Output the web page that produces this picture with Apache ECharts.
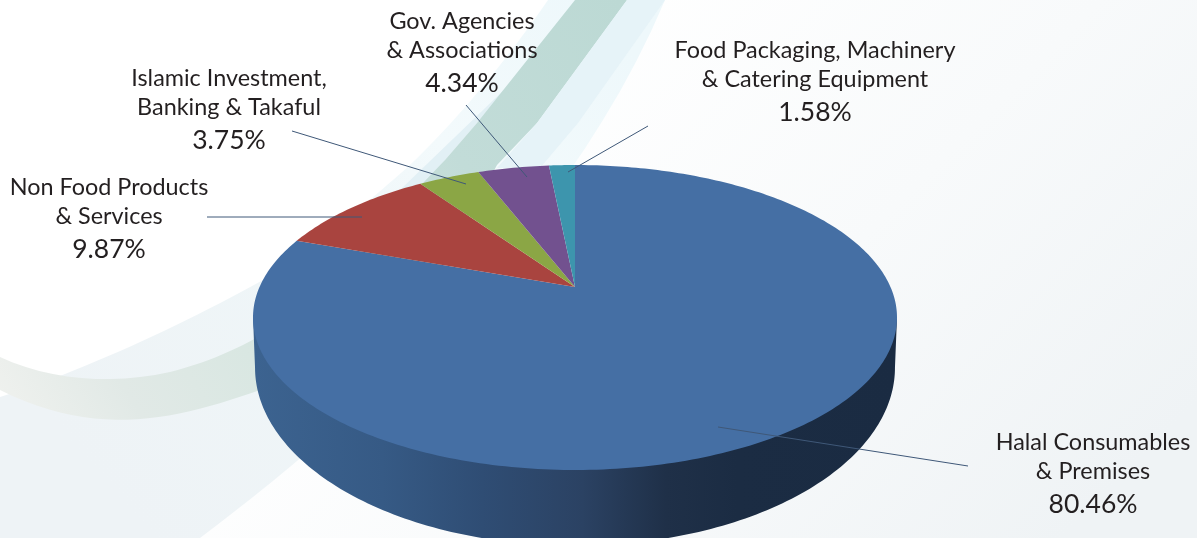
<!DOCTYPE html>
<html><head><meta charset="utf-8">
<style>html,body{margin:0;padding:0;background:#fff}#c{width:1197px;height:538px}</style>
<script src="https://cdn.jsdelivr.net/npm/echarts@6/dist/echarts.min.js"></script>
</head><body><div id="c"></div>
<script>
// ---- data ----
var categories = ['Halal Consumables\n& Premises','Non Food Products\n& Services','Islamic Investment,\nBanking & Takaful','Gov. Agencies\n& Associations','Food Packaging, Machinery\n& Catering Equipment'];
var shares = [80.46, 9.87, 3.75, 4.34, 1.58];

// ---- styles and layout ----
var sliceColors = ['#456fa4','#a9443f','#8ba645','#72518f','#3d95ad'];
var labelLayout = [
  {cx:1093, y:442, from:[968,466], to:[718,427]},
  {cx:109,  y:187, from:[207,217], to:[362,217]},
  {cx:229,  y:78,  from:[292,131], to:[466,184]},
  {cx:462,  y:21,  from:[466,105], to:[527,177]},
  {cx:815,  y:50,  from:[648,126], to:[568,172]}
];
var FONT = 'Lato, "Open Sans", sans-serif';
var TOP = {x0:575, y0:287, a:315.5, b:146.4, k:0.2};
var BASE = {x0:575, y0:332, a:313.5, b:171, k:0.2};

function project(m, t){
  var u = Math.sin(t), v = -Math.cos(t), w = 1 - m.k * v;
  return [m.x0 + m.a * u / w, m.y0 + m.b * v / w];
}
function arc(m, t0, t1, n){
  var p = [];
  for (var i = 0; i <= n; i++) p.push(project(m, t0 + (t1 - t0) * i / n));
  return p;
}
function bez(pts){ // pts: start, then triples of control points
  var out = [pts[0]];
  for (var i = 3; i < pts.length; i += 3){
    var a = pts[i-3], b = pts[i-2], c = pts[i-1], d = pts[i];
    for (var s = 1; s <= 24; s++){
      var t = s/24, m = 1-t;
      out.push([m*m*m*a[0]+3*m*m*t*b[0]+3*m*t*t*c[0]+t*t*t*d[0],
                m*m*m*a[1]+3*m*m*t*b[1]+3*m*t*t*c[1]+t*t*t*d[1]]);
    }
  }
  return out;
}
function lin(x,y,x2,y2,stops){
  return {type:'linear',global:true,x:x,y:y,x2:x2,y2:y2,
    colorStops:stops.map(function(s){return {offset:s[0],color:s[1]};})};
}

var total = shares.reduce(function(a,b){return a+b;},0);
function renderSlice(params, api){
  var i = params.dataIndex, before = 0;
  for (var j = 0; j < i; j++) before += shares[j];
  var t0 = before / total * 2 * Math.PI;
  var t1 = t0 + api.value(0) / total * 2 * Math.PI;
  var n = Math.max(12, Math.round((t1 - t0) * 60));
  var children = [];
  if (i === 0){
    var lo = arc(BASE, Math.PI*0.5 + 0.2, Math.PI*1.5 - 0.2, 160);
    var wall = [project(TOP, Math.PI*1.5 - 0.2)].concat(lo.slice().reverse()).concat([project(TOP, Math.PI*0.5 + 0.2)]);
    children.push({type:'polygon', shape:{points:wall}, style:{
      fill: lin(254,0,898,0,[[0,'#3c6390'],[0.2,'#365a85'],[0.355,'#2f4d74'],[0.51,'#2b4263'],[0.64,'#1f3048'],[0.75,'#1b2c43'],[1,'#1a2b42']])
    }});
  }
  children.push({type:'polygon',
    shape:{points:[[TOP.x0,TOP.y0]].concat(arc(TOP,t0,t1,n))},
    style:{fill:sliceColors[i]}});
  return {type:'group', children:children};
}

// background swooshes
var bgElements = [
  {type:'rect', z:0, shape:{x:0,y:0,width:1197,height:538},
   style:{fill:lin(500,100,1000,600,[[0,'#ffffff'],[0.5,'#f8fafb'],[1,'#eff3f5']])}},
  // broad pale sweep
  {type:'polygon', z:0, shape:{points:
    bez([[548,0],[500,70],[440,140],[393,180],[350,217],[310,250],[263,280],[180,326],[80,372],[0,397]]).concat(
    [[0,538],[200,538]],
    bez([[200,538],[330,440],[560,250],[665,0]]))},
   style:{fill:lin(120,500,640,60,[[0,'#eef3f6'],[0.45,'#eff6f8'],[0.7,'#f3fafc'],[1,'#eef8fb']])}},
  // blue band left of the teal band
  {type:'polygon', z:0, shape:{points:[[535,60],[477,123],[445,160],[425,190],[400,190]]},
   style:{fill:'#e2f0f5'}},
  // sage band bottom-left continuing to teal band at top
  {type:'polygon', z:0, shape:{points:
    bez([[0,357],[50,380],[110,385],[170,372],[225,358],[265,335],[300,310]]).concat(
    [[423,183],[445,160],[477,123],[575,0],[627,0],[537,123],[497,165],[440,270]],
    bez([[440,270],[380,340],[320,370],[260,390],[180,418],[100,440],[0,390]]))},
   style:{fill:lin(0,400,620,0,[[0,'#eff1ee'],[0.15,'#e1e9e6'],[0.4,'#d5e6e0'],[0.7,'#c2dcd8'],[1,'#bcd9d4']])}},
  // light blue band right of the teal band
  {type:'polygon', z:0, shape:{points:[[627,0],[665,0],[578,123],[540,168],[497,168],[537,123]]},
   style:{fill:'#e6f3f8'}}
];

var annoElements = [];
shares.forEach(function(v,i){
  var L = labelLayout[i], lines = categories[i].split('\n');
  annoElements.push({type:'line', z:50, shape:{x1:L.from[0],y1:L.from[1],x2:L.to[0],y2:L.to[1]},
    style:{stroke:'#3f5878',lineWidth:1}});
  lines.forEach(function(t,k){
    annoElements.push({type:'text', z:50, x:L.cx, y:L.y + k*29.5,
      style:{text:t,fill:'#231f20',font:'23.4px '+FONT,align:'center',verticalAlign:'middle'}});
  });
  annoElements.push({type:'text', z:50, x:L.cx, y:L.y + 62.5,
    style:{text:v.toFixed(2)+'%',fill:'#231f20',font:'26.5px '+FONT,align:'center',verticalAlign:'middle'}});
});

var chart = echarts.init(document.getElementById('c'), null, {renderer:'canvas'});
chart.setOption({
  animation:false,
  graphic:{elements:bgElements.concat(annoElements)},
  series:[{
    type:'custom', coordinateSystem:'none', z:10, silent:true,
    renderItem:renderSlice,
    data:shares.map(function(v,i){return {name:categories[i],value:[v]};})
  }]
});
</script></body></html>
